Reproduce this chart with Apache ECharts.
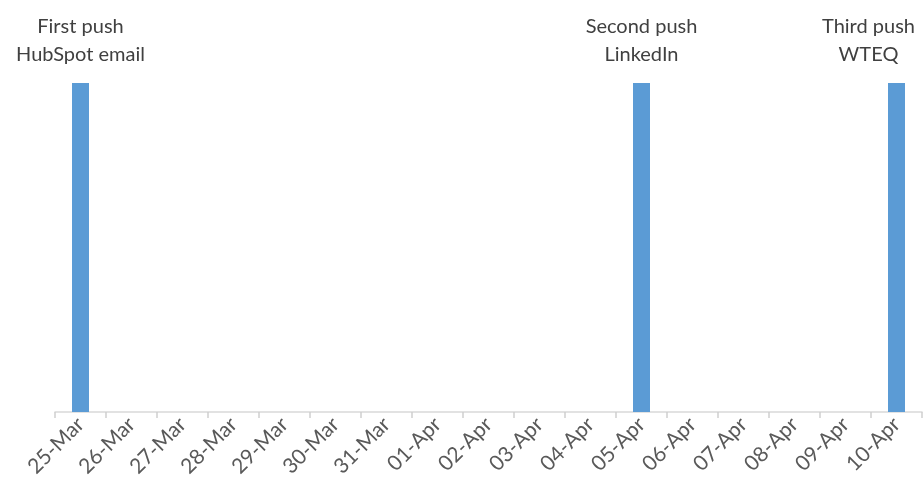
<!DOCTYPE html>
<html>
<head>
<meta charset="utf-8">
<script src="https://cdn.jsdelivr.net/npm/echarts@6/dist/echarts.min.js"></script>
<style>
  html, body { margin: 0; padding: 0; background: #fff; }
  #chart { width: 924px; height: 495px; }
</style>
</head>
<body>
<div id="chart"></div>
<script>
const days = ['25-Mar', '26-Mar', '27-Mar', '28-Mar', '29-Mar', '30-Mar', '31-Mar',
  '01-Apr', '02-Apr', '03-Apr', '04-Apr', '05-Apr', '06-Apr', '07-Apr', '08-Apr', '09-Apr', '10-Apr'];
const pushes = [1, 0, 0, 0, 0, 0, 0, 0, 0, 0, 0, 1, 0, 0, 0, 0, 1];
const pushLabels = ['First push\nHubSpot email', '', '', '', '', '', '', '', '', '', '',
  'Second push\nLinkedIn', '', '', '', '', 'Third push\nWTEQ'];

const chart = echarts.init(document.getElementById('chart'));

const data = pushes.map((v, i) => {
  const item = { value: v };
  if (pushLabels[i]) {
    item.label = {
      show: true,
      position: 'top',
      formatter: pushLabels[i],
      offset: i === days.length - 1 ? [-28, 0] : [0, 0]
    };
  }
  return item;
});

chart.setOption({
  animation: false,
  grid: { left: 55, right: 2, top: 83, bottom: 83, containLabel: false },
  xAxis: {
    type: 'category',
    data: days,
    axisLine: { lineStyle: { color: '#d9d9d9', width: 1.5 } },
    axisTick: { show: true, length: 6, lineStyle: { color: '#cfcfcf', width: 1.5 } },
    axisLabel: {
      rotate: 45,
      interval: 0,
      color: '#595959',
      fontSize: 21,
      fontFamily: 'Lato',
      margin: 9
    }
  },
  yAxis: {
    type: 'value',
    min: 0,
    max: 1,
    show: false
  },
  series: [{
    type: 'bar',
    data: data,
    barWidth: 17,
    itemStyle: { color: '#5b9bd5' },
    label: {
      color: '#404040',
      fontSize: 20,
      fontFamily: 'Lato',
      lineHeight: 28,
      distance: 14
    }
  }]
});
</script>
</body>
</html>
